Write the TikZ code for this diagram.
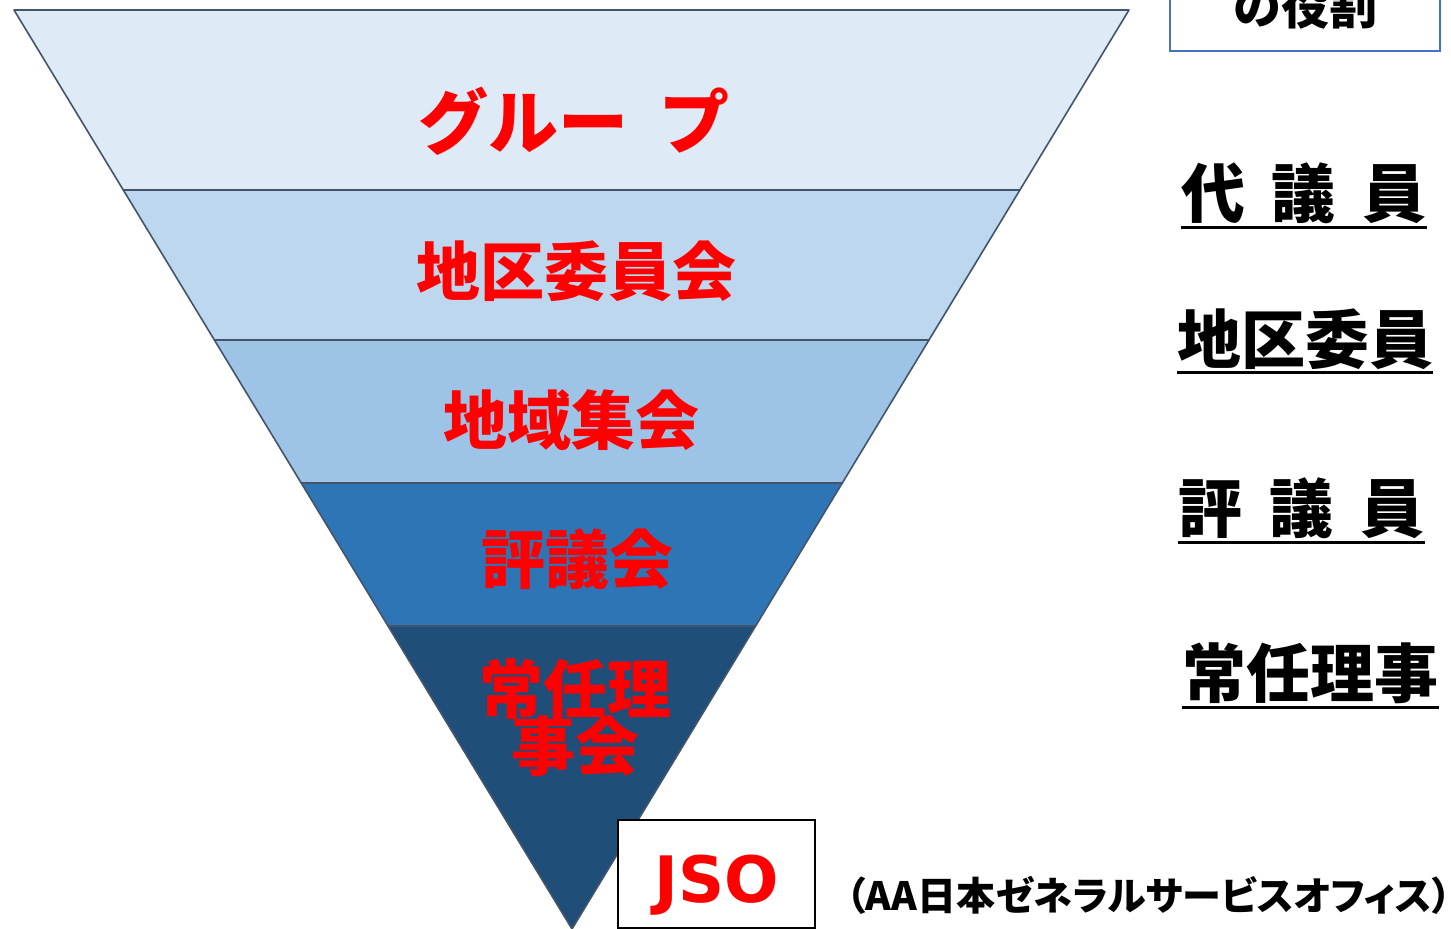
\documentclass[tikz,border=0pt]{standalone}
\usepackage{fontspec}
\usetikzlibrary{calc,positioning}
\newfontfamily\jpfont{Noto Sans CJK JP}
\newfontfamily\jppfont{Noto Sans CJK JP}[RawFeature=+palt]
\newfontfamily\latfont{DejaVu Sans}
\definecolor{layA}{HTML}{DEEAF6}
\definecolor{layB}{HTML}{BDD7EE}
\definecolor{layC}{HTML}{9DC3E6}
\definecolor{layD}{HTML}{2E75B6}
\definecolor{layE}{HTML}{1F4E79}
\definecolor{edgegray}{HTML}{44546A}
\definecolor{roleblue}{HTML}{4472C4}
\tikzstyle{layer}=[draw=edgegray,line width=0.8pt,line join=round]
\tikzstyle{redlabel}=[text=red,inner sep=0pt,font=\jpfont\bfseries\fontsize{32}{32}\selectfont]
\tikzstyle{rolelabel}=[text=black,inner sep=0pt,font=\jpfont\bfseries\fontsize{32}{32}\selectfont]
\tikzstyle{uline}=[line width=1.5pt,black]
\begin{document}
\begin{tikzpicture}[x=0.5pt,y=-0.5pt]
    \useasboundingbox (0,0) rectangle (1451,929);
    \clip (0,0) rectangle (1451,929);

    \coordinate (tl) at (14,10);
    \coordinate (tr) at (1129,10);
    \coordinate (ap) at (572,929);
    \coordinate (l1) at ($(tl)!0.1959!(ap)$);
    \coordinate (r1) at ($(tr)!0.1959!(ap)$);
    \coordinate (l2) at ($(tl)!0.3591!(ap)$);
    \coordinate (r2) at ($(tr)!0.3591!(ap)$);
    \coordinate (l3) at ($(tl)!0.5147!(ap)$);
    \coordinate (r3) at ($(tr)!0.5147!(ap)$);
    \coordinate (l4) at ($(tl)!0.6703!(ap)$);
    \coordinate (r4) at ($(tr)!0.6703!(ap)$);

    \filldraw[layer,fill=layA] (tl) -- (tr) -- (r1) -- (l1) -- cycle;
    \filldraw[layer,fill=layB] (l1) -- (r1) -- (r2) -- (l2) -- cycle;
    \filldraw[layer,fill=layC] (l2) -- (r2) -- (r3) -- (l3) -- cycle;
    \filldraw[layer,fill=layD] (l3) -- (r3) -- (r4) -- (l4) -- cycle;
    \filldraw[layer,fill=layE] (l4) -- (r4) -- (ap) -- cycle;

    \node[redlabel,font=\jpfont\bfseries\fontsize{35}{35}\selectfont] (grp) at (574,121) {グルー\hspace{0.45em}プ};
    \node[redlabel] (chiku)  at (576,271) {地区委員会};
    \node[redlabel] (chiiki) at (571,420) {地域集会};
    \node[redlabel] (hyogi)  at (577,559) {評議会};
    \node[redlabel] (jonin)  at (575,689) {常任理};
    \node[redlabel] (joninb) at (575,746) {事会};

    \node[draw=black,line width=1pt,fill=white,minimum width=98.5pt,minimum height=54pt,
          text=red,font=\latfont\bfseries\fontsize{32}{32}\selectfont] (jso) at (716.5,874) {\raisebox{-14pt}[0pt][0pt]{JSO}};
    \node[anchor=west,inner sep=0pt,font=\jppfont\bfseries\fontsize{19.5}{19.5}\selectfont] (jsoname) at (846,895)
        {（AA日本ゼネラルサービスオフィス）};

    \node[draw=roleblue,line width=1pt,minimum width=135pt,minimum height=45pt,
          font=\jpfont\bfseries\fontsize{24}{24}\selectfont] (role) at (1305,6) {の役割};

    \node[rolelabel] (daigi)   at (1304,193.5) {代\hspace{0.42em}議\hspace{0.42em}員};
    \node[rolelabel] (chikuin) at (1305,339)   {地区委員};
    \node[rolelabel] (hyogiin) at (1301.5,508.5) {評\hspace{0.42em}議\hspace{0.42em}員};
    \node[rolelabel] (joninri) at (1310.5,673.5) {常任理事};

    \draw[uline] ([yshift=-1.5pt]daigi.south west) -- ([yshift=-1.5pt]daigi.south east);
    \draw[uline] ([yshift=-1.5pt]chikuin.south west) -- ([yshift=-1.5pt]chikuin.south east);
    \draw[uline] ([yshift=-1.5pt]hyogiin.south west) -- ([yshift=-1.5pt]hyogiin.south east);
    \draw[uline] ([yshift=-1.5pt]joninri.south west) -- ([yshift=-1.5pt]joninri.south east);
\end{tikzpicture}
\end{document}
